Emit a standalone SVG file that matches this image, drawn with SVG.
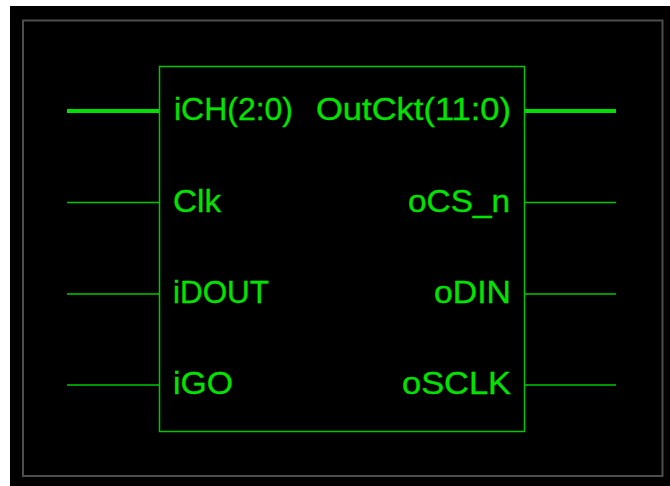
<svg xmlns="http://www.w3.org/2000/svg" width="670" height="486" viewBox="0 0 670 486">
<style>
.bg{fill:#000}
.frame{fill:none;stroke:#4d4d4d;stroke-width:2}
.box{fill:none;stroke:#00c800;stroke-width:1.5}
.wire{stroke:#00c800;stroke-width:1.3;fill:none}
.bus{stroke:#00e000;stroke-width:4;fill:none}
.lbl{fill:#00e400;stroke:#00e400;stroke-width:0.3;font-family:"Liberation Sans",Arial,sans-serif;font-size:32px}
.r{text-anchor:end}
</style>
<rect width="670" height="486" fill="#fff"/>
<rect class="bg" x="10" y="6" width="660" height="480"/>
<rect class="frame" x="23" y="20.5" width="639.5" height="455.5"/>
<g id="connectors">
<line class="bus" x1="67" y1="111" x2="159.5" y2="111"/>
<line class="wire" x1="67" y1="202.5" x2="159.5" y2="202.5"/>
<line class="wire" x1="67" y1="294" x2="159.5" y2="294"/>
<line class="wire" x1="67" y1="385" x2="159.5" y2="385"/>
<line class="bus" x1="524.5" y1="111" x2="616" y2="111"/>
<line class="wire" x1="524.5" y1="202.5" x2="616" y2="202.5"/>
<line class="wire" x1="524.5" y1="294" x2="616" y2="294"/>
<line class="wire" x1="524.5" y1="385" x2="616" y2="385"/>
</g>
<g id="block">
<rect class="box" x="159.5" y="66.5" width="365" height="365"/>
<text class="lbl" x="174" y="120" textLength="119" lengthAdjust="spacingAndGlyphs">iCH(2:0)</text>
<text class="lbl" x="173" y="212" textLength="48" lengthAdjust="spacingAndGlyphs">Clk</text>
<text class="lbl" x="173" y="303" textLength="96" lengthAdjust="spacingAndGlyphs">iDOUT</text>
<text class="lbl" x="173" y="394" textLength="60" lengthAdjust="spacingAndGlyphs">iGO</text>
<text class="lbl r" x="511" y="120" textLength="195" lengthAdjust="spacingAndGlyphs">OutCkt(11:0)</text>
<text class="lbl r" x="510" y="212" textLength="102" lengthAdjust="spacingAndGlyphs">oCS_n</text>
<text class="lbl r" x="511" y="303" textLength="77" lengthAdjust="spacingAndGlyphs">oDIN</text>
<text class="lbl r" x="511" y="394" textLength="109" lengthAdjust="spacingAndGlyphs">oSCLK</text>
</g>
</svg>
